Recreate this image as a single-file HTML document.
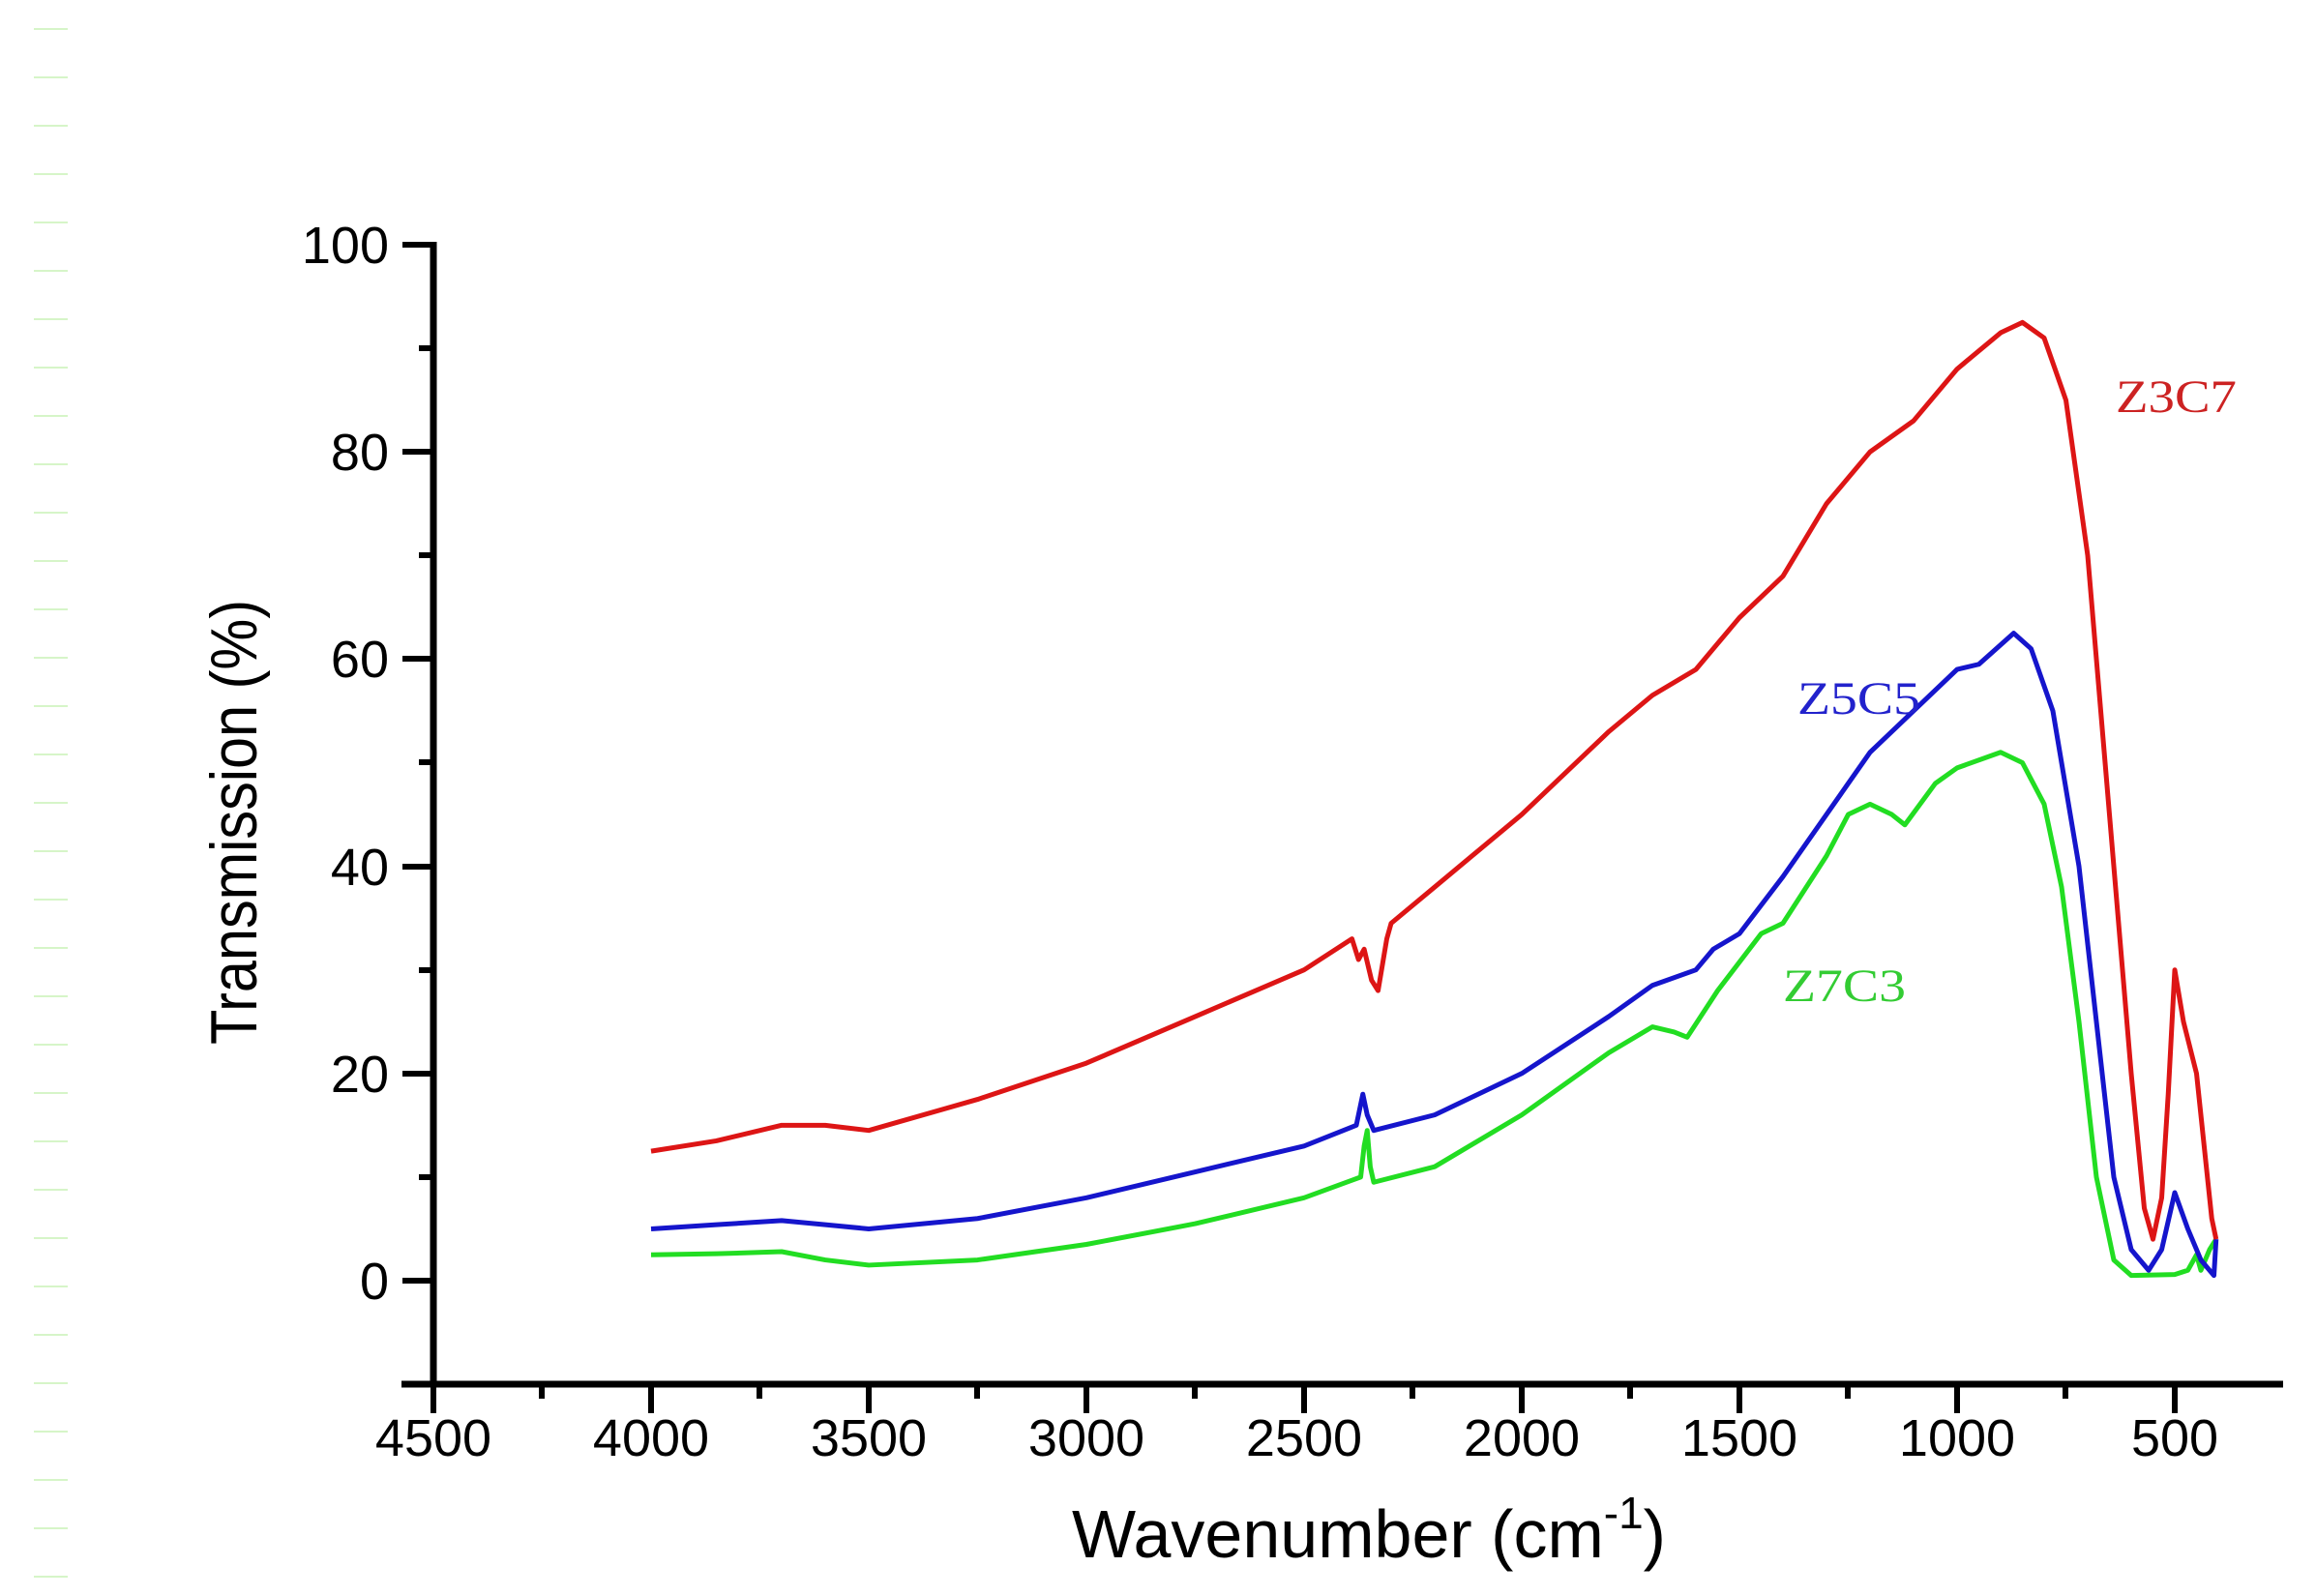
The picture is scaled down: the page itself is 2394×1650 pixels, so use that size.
<!DOCTYPE html>
<html><head><meta charset="utf-8"><style>html,body{margin:0;padding:0;background:#fff}svg{display:block}</style></head>
<body>
<svg width="2394" height="1650" viewBox="0 0 2394 1650" xmlns="http://www.w3.org/2000/svg">
<rect width="2394" height="1650" fill="#fff"/>
<g stroke="#d6f5c8" stroke-width="2">
<path d="M35 30h35M35 80h35M35 130h35M35 180h35M35 230h35M35 280h35M35 330h35M35 380h35M35 430h35M35 480h35M35 530h35M35 580h35M35 630h35M35 680h35M35 730h35M35 780h35M35 830h35M35 880h35M35 930h35M35 980h35M35 1030h35M35 1080h35M35 1130h35M35 1180h35M35 1230h35M35 1280h35M35 1330h35M35 1380h35M35 1430h35M35 1480h35M35 1530h35M35 1580h35M35 1630h35"/>
</g>
<g stroke="#000" fill="none">
<path d="M448 250V1434" stroke-width="7"/>
<path d="M415 1431H2360" stroke-width="7"/>
<path d="M416 253h32M416 467h32M416 681h32M416 896h32M416 1110h32M416 1324h32" stroke-width="6"/>
<path d="M433 360h15M433 574h15M433 788h15M433 1003h15M433 1217h15" stroke-width="6"/>
<path d="M448 1431v30M673 1431v30M898 1431v30M1123 1431v30M1348 1431v30M1573 1431v30M1798 1431v30M2023 1431v30M2248 1431v30" stroke-width="6"/>
<path d="M560 1431v15M785 1431v15M1010 1431v15M1235 1431v15M1460 1431v15M1685 1431v15M1910 1431v15M2135 1431v15" stroke-width="6"/>
</g>
<g font-family="Liberation Sans, sans-serif" font-size="54" fill="#000" text-anchor="end">
<text x="402" y="272">100</text>
<text x="402" y="486">80</text>
<text x="402" y="700">60</text>
<text x="402" y="915">40</text>
<text x="402" y="1129">20</text>
<text x="402" y="1343">0</text>
</g>
<g font-family="Liberation Sans, sans-serif" font-size="54" fill="#000" text-anchor="middle">
<text x="448" y="1505">4500</text><text x="673" y="1505">4000</text><text x="898" y="1505">3500</text>
<text x="1123" y="1505">3000</text><text x="1348" y="1505">2500</text><text x="1573" y="1505">2000</text>
<text x="1798" y="1505">1500</text><text x="2023" y="1505">1000</text><text x="2248" y="1505">500</text>
</g>
<text x="1415" y="1610" font-family="Liberation Sans, sans-serif" font-size="70" text-anchor="middle">Wavenumber (cm<tspan dy="-30" font-size="46">-1</tspan><tspan dy="30">)</tspan></text>
<text transform="translate(265,850) rotate(-90)" font-family="Liberation Sans Narrow, Liberation Sans, sans-serif" font-size="68" text-anchor="middle" textLength="460" lengthAdjust="spacingAndGlyphs">Transmission (%)</text>
<g transform="translate(2473,1324) scale(-0.45,-10.71)" fill="none" stroke-width="5" stroke-linejoin="round">
<polyline vector-effect="non-scaling-stroke" stroke="#22dd22" points="4000,2.5 3850,2.6 3700,2.8 3600,2 3500,1.5 3250,2 3000,3.5 2750,5.5 2500,8 2370,10 2362,13 2355,14.5 2348,11 2340,9.5 2200,11 2000,16 1800,22 1700,24.5 1650,24 1620,23.5 1550,28 1450,33.5 1400,34.5 1300,41 1250,45 1200,46 1150,45 1120,44 1050,48 1000,49.5 900,51 850,50 800,46 760,38 720,25 680,10 640,2 600,0.5 500,0.6 470,1 450,2.5 440,1 420,3 405,4"/>
<polyline vector-effect="non-scaling-stroke" stroke="#1515cc" points="4000,5 3850,5.4 3700,5.8 3600,5.4 3500,5 3250,6 3000,8 2750,10.5 2500,13 2380,15 2365,18 2355,16 2340,14.5 2200,16 2000,20 1800,25.5 1700,28.5 1600,30 1560,32 1500,33.5 1400,39 1300,45 1200,51 1100,55 1000,59 950,59.5 870,62.5 830,61 780,55 720,40 680,25 640,10 600,3 560,1 530,3 500,8.5 470,5 440,2 410,0.5 405,4"/>
<polyline vector-effect="non-scaling-stroke" stroke="#dd1515" points="4000,12.5 3850,13.5 3700,15 3600,15 3500,14.5 3250,17.5 3000,21 2750,25.5 2500,30 2390,33 2375,31 2362,32 2345,29 2330,28 2310,33 2300,34.5 2200,38 2000,45 1800,53 1700,56.5 1600,59 1500,64 1400,68 1300,75 1200,80 1100,83 1000,88 900,91.5 850,92.5 800,91 750,85 700,70 650,45 600,20 570,7 550,4 530,8 515,18 500,30 480,25 450,20 430,12 415,6 405,4"/>
</g>
<g font-family="Liberation Serif, serif" font-size="48">
<text x="2187" y="426" fill="#cc2222" textLength="125" lengthAdjust="spacingAndGlyphs">Z3C7</text>
<text x="1858" y="738" fill="#2222cc" textLength="127" lengthAdjust="spacingAndGlyphs">Z5C5</text>
<text x="1843" y="1035" fill="#33cc33" textLength="127" lengthAdjust="spacingAndGlyphs">Z7C3</text>
</g>
</svg>
</body></html>
